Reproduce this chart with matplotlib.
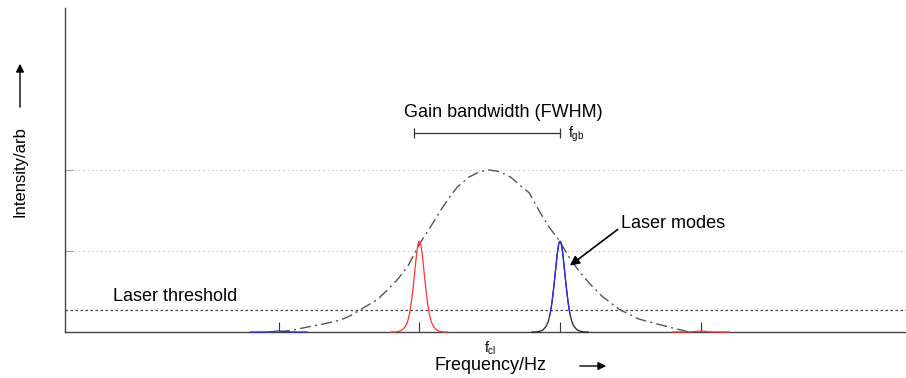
import numpy as np
import matplotlib.pyplot as plt

plt.rcParams['font.family'] = ['Liberation Sans', 'DejaVu Sans']

# gain curve (frequency in mode spacings from f_cl)
gain_x = [-1.5, -1.4, -1.3, -1.18, -1.06, -0.98, -0.9, -0.8, -0.72, -0.65, -0.58, -0.49, -0.42,
          -0.35, -0.28, -0.23, -0.15, -0.07, 0.0, 0.07, 0.15, 0.23, 0.28, 0.35, 0.42,
          0.49, 0.58, 0.65, 0.72, 0.8, 0.92, 1.06, 1.18, 1.3, 1.42]
gain_y = [0.0, 0.012, 0.03, 0.05, 0.074, 0.105, 0.148, 0.2, 0.265, 0.33, 0.41, 0.556, 0.65,
          0.75, 0.84, 0.895, 0.955, 0.99, 1.0, 0.99, 0.955, 0.895, 0.86, 0.75, 0.65,
          0.57, 0.44, 0.36, 0.29, 0.22, 0.14, 0.08, 0.052, 0.025, 0.0]

# laser modes
mode_pos = [-1.5, -0.5, 0.5, 1.5]
mode_height = [0.006, 0.56, 0.56, 0.006]
mode_color = ['#2a2aff', '#ff3333', '#2a2aff', '#ff3333']
# mode line shape (offset, relative height)
profile_dx = [-0.2, -0.17, -0.14, -0.12, -0.1, -0.085, -0.07, -0.057, -0.044, -0.032, -0.02,
              -0.01, -0.004, 0.0, 0.004, 0.01, 0.02, 0.032, 0.044, 0.057, 0.07, 0.085, 0.1,
              0.12, 0.14, 0.17, 0.2]
profile_y = [0.0, 0.0, 0.01, 0.025, 0.06, 0.11, 0.2, 0.33, 0.5, 0.68, 0.86,
             0.965, 0.995, 1.0, 0.995, 0.965, 0.86, 0.68, 0.5, 0.33, 0.2, 0.11, 0.06,
             0.025, 0.01, 0.0, 0.0]

threshold = 0.136
grid_levels = [0.5, 1.0]
fwhm = [-0.54, 0.5]

fig = plt.figure(figsize=(9.06, 3.78), dpi=100)
ax = fig.add_axes([65/906, 46/378, 841/906, 324/378])
ax.set_xlim(-3.02, 2.96)
ax.set_ylim(0, 2.0)

for lev in grid_levels:
    ax.axhline(lev, color='#bbbbbb', lw=0.8, ls=(0, (1, 3)), zorder=1)
ax.axhline(threshold, color='#444444', lw=0.9, ls=(0, (2, 2)), zorder=1)

ax.plot(gain_x, gain_y, color='#555555', lw=1.0, ls=(0, (8, 3, 1.5, 3)), zorder=2)

dx = np.array(profile_dx)
py = np.array(profile_y)
for p, h, c in zip(mode_pos, mode_height, mode_color):
    x = p + dx
    y = h * py
    if c == '#2a2aff' and h > 0.1:
        ax.plot(x, y, color='#222222', lw=0.9, zorder=3, clip_on=False)
        m = py >= 0.15
        ax.plot(x[m], y[m], color=c, lw=0.9, zorder=4, clip_on=False)
    else:
        ax.plot(x, y, color=c, lw=0.9, zorder=3, clip_on=False)

ax.spines['top'].set_visible(False)
ax.spines['right'].set_visible(False)
for s in ['left', 'bottom']:
    ax.spines[s].set_color('#444444')
    ax.spines[s].set_linewidth(1.0)

ax.set_xticks(mode_pos)
ax.set_xticklabels([])
ax.set_yticks(grid_levels)
ax.set_yticklabels([])
ax.tick_params(axis='x', direction='in', length=7, width=0.8, color='#333333')
ax.tick_params(axis='y', direction='in', length=6, width=0.8, color='#999999')

# FWHM bar
ax.plot(fwhm, [1.23, 1.23], color='#333333', lw=0.9, marker='|', ms=7, mew=0.9)
ax.text(0.1, 1.355, 'Gain bandwidth (FWHM)', ha='center', va='center', fontsize=13)
ax.text(0.555, 1.22, r'f$_{\mathregular{gb}}$', ha='left', va='center', fontsize=10)

ax.annotate('Laser modes', xy=(0.57, 0.41), xytext=(0.93, 0.667),
            ha='left', va='center', fontsize=13,
            arrowprops=dict(arrowstyle='-|>', color='black', lw=1.2,
                            mutation_scale=14, shrinkA=0, shrinkB=0,
                            relpos=(0, 0.3)))
ax.text(-2.68, 0.222, 'Laser threshold', ha='left', va='center', fontsize=13)

ax.text(0.0, -0.1, r'f$_{\mathregular{cl}}$', ha='center', va='center', fontsize=10)

fig.text(490/906, 1 - 366/378, 'Frequency/Hz', ha='center', va='center', fontsize=13)
fig.text(20/906, 1 - 172/378, 'Intensity/arb', ha='center', va='center',
         fontsize=12, rotation=90)
fig.add_artist(plt.matplotlib.patches.FancyArrowPatch(
    (577/906, 1 - 366/378), (609/906, 1 - 366/378), transform=fig.transFigure,
    arrowstyle='-|>', mutation_scale=12, lw=1.0, color='black'))
fig.add_artist(plt.matplotlib.patches.FancyArrowPatch(
    (20/906, 1 - 110/378), (20/906, 1 - 61/378), transform=fig.transFigure,
    arrowstyle='-|>', mutation_scale=12, lw=1.0, color='black'))

fig.savefig('out.png', dpi=100)
